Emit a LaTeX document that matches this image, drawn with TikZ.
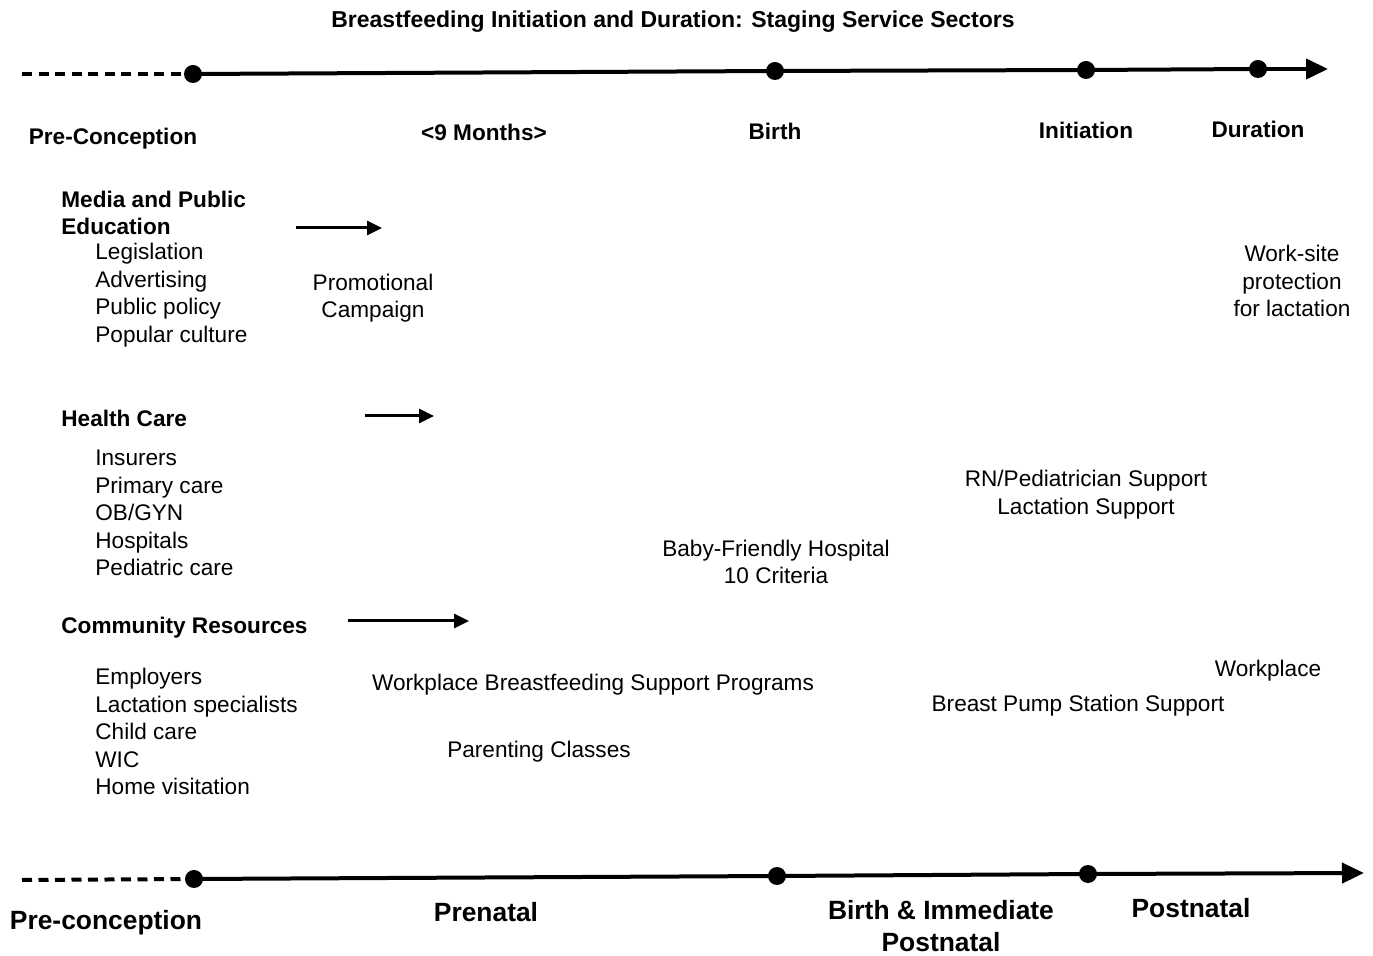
\documentclass[tikz,border=0pt]{standalone}
\usepackage{fontspec}
\setmainfont{Liberation Sans}
\usetikzlibrary{arrows.meta}
\begin{document}
\begin{tikzpicture}[
  x=0.5pt, y=-0.5pt,
  txt/.style={inner sep=0pt, yshift=-1.3pt, font=\fontsize{11.3}{13.8}\selectfont, align=center},
  head/.style={inner sep=0pt, yshift=-1.3pt, font=\fontsize{11.3}{13.8}\selectfont\bfseries, align=left, anchor=west},
  stage/.style={inner sep=0pt, font=\fontsize{11.3}{13.8}\selectfont\bfseries, align=center},
  lst/.style={txt, align=left, anchor=west},
  phase/.style={inner sep=0pt, font=\fontsize{13.2}{16}\selectfont\bfseries, align=center},
  dot/.style={circle, fill=black, inner sep=0pt, minimum size=9pt},
  axis/.style={line width=2pt},
  lead/.style={axis, dash pattern=on 5pt off 3.25pt},
  tip/.style={axis, -{Triangle[length=11pt,width=10pt]}},
  push/.style={line width=1.5pt, -{Triangle[length=7.5pt,width=7pt]}}
]
  \useasboundingbox (0,0) rectangle (1373,956);

  \node[stage, font=\fontsize{11.5}{13.8}\selectfont\bfseries] (title) at (673, 22) {Breastfeeding Initiation and Duration: Staging Service Sectors};

  % top time line
  \coordinate (ta) at (22, 74);
  \node[dot] (t1) at (193, 74) {};
  \node[dot] (t2) at (775, 71) {};
  \node[dot] (t3) at (1086, 70) {};
  \node[dot] (t4) at (1258, 69) {};
  \coordinate (tz) at (1328, 69);

  \draw[lead] (ta) -- (t1.center);
  \draw[axis] (t1.center) -- (t2.center) -- (t3.center) -- (t4.center);
  \draw[tip] (t4.center) -- (tz);

  \node[stage] (l1) at (113, 139) {Pre-Conception};
  \node[stage] (l2) at (484, 132) {<9 Months>};
  \node[stage] (l3) at (775, 131) {Birth};
  \node[stage] (l4) at (1086, 130) {Initiation};
  \node[stage] (l5) at (1258, 129) {Duration};

  % service sectors
  \node[head] (m0) at (61, 210.5) {Media and Public\\Education};
  \node[lst] (m1) at (95, 292.5) {Legislation\\Advertising\\Public policy\\Popular culture};
  \coordinate (ma) at (296, 228);
  \coordinate (mb) at (382, 228);
  \draw[push] (ma) -- (mb);
  \node[txt] (m2) at (373, 295.5) {Promotional\\Campaign};
  \node[txt] (m3) at (1292, 278.5) {Work-site\\protection\\for lactation};

  \node[head] (h0) at (61, 416) {Health Care};
  \node[lst] (h1) at (95, 510.5) {Insurers\\Primary care\\OB/GYN\\Hospitals\\Pediatric care};
  \coordinate (ha) at (365, 416);
  \coordinate (hb) at (434, 416);
  \draw[push] (ha) -- (hb);
  \node[txt] (h2) at (1086, 492) {RN/Pediatrician Support\\Lactation Support};
  \node[txt] (h3) at (776, 559.5) {Baby-Friendly Hospital\\10 Criteria};

  \node[head] (c0) at (61, 625) {Community Resources};
  \node[lst] (c1) at (95, 729) {Employers\\Lactation specialists\\Child care\\WIC\\Home visitation};
  \coordinate (ca) at (348, 621);
  \coordinate (cb) at (469, 621);
  \draw[push] (ca) -- (cb);
  \node[txt] (c2) at (593, 682) {Workplace Breastfeeding Support Programs};
  \node[txt] (c3) at (539, 749) {Parenting Classes};
  \node[txt] (c4) at (1268, 668) {Workplace};
  \node[txt] (c5) at (1078, 703) {Breast Pump Station Support};

  % bottom time line
  \coordinate (ba) at (22, 880);
  \node[dot] (b1) at (194, 879) {};
  \node[dot] (b2) at (777, 876) {};
  \node[dot] (b3) at (1088, 874) {};
  \coordinate (bz) at (1364, 873);

  \draw[lead] (ba) -- (b1.center);
  \draw[axis] (b1.center) -- (b2.center) -- (b3.center);
  \draw[tip] (b3.center) -- (bz);

  \node[phase] (p1) at (106, 923) {Pre-conception};
  \node[phase] (p2) at (486, 912) {Prenatal};
  \node[phase] (p3) at (941, 926) {Birth \& Immediate\\Postnatal};
  \node[phase] (p4) at (1191, 908) {Postnatal};
\end{tikzpicture}
\end{document}
